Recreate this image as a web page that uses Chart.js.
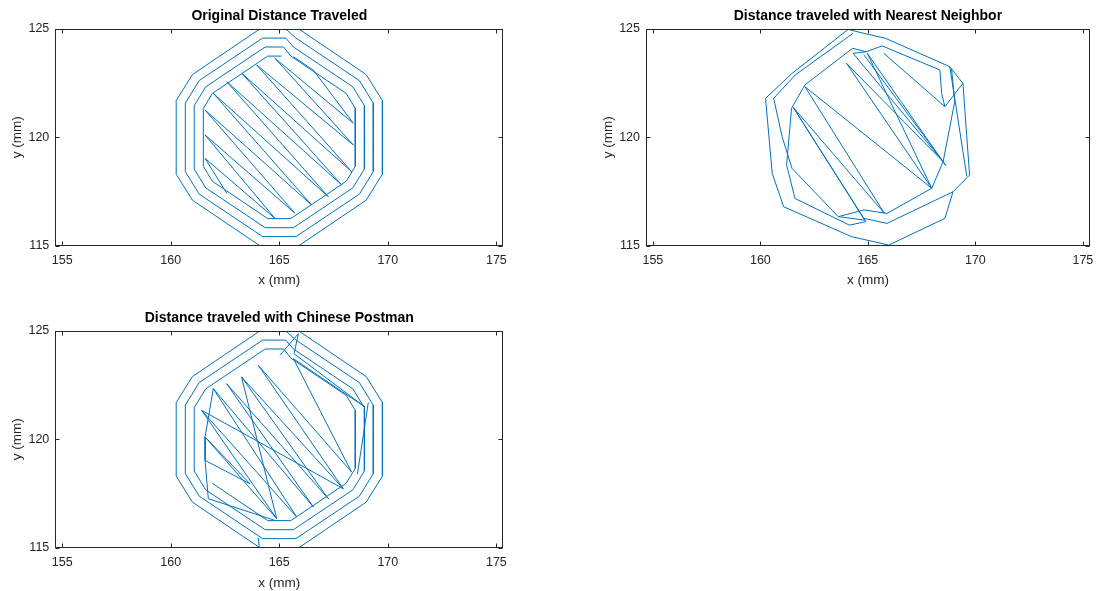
<!DOCTYPE html>
<html>
<head>
<meta charset="utf-8">
<script src="https://cdn.jsdelivr.net/npm/chart.js@4.4.0/dist/chart.umd.min.js"></script>
<style>
  html, body { margin: 0; padding: 0; background: #fff; overflow: hidden; }
  canvas { position: absolute; }
</style>
</head>
<body>
<canvas id="orig" width="520" height="300" style="left:0;top:0;width:520px;height:300px"></canvas>
<canvas id="nn" width="510" height="300" style="left:591px;top:0;width:510px;height:300px"></canvas>
<canvas id="cp" width="520" height="289" style="left:0;top:302px;width:520px;height:289px"></canvas>
<script>
// axes
const xTicks = [155, 160, 165, 170, 175]
const yTicks = [115, 120, 125]
const xRange = [154.68, 175.32]
const yRange = [115, 125]
const titles = ['Original Distance Traveled', 'Distance traveled with Nearest Neighbor', 'Distance traveled with Chinese Postman']

// contour rings (x, y in mm), each ends with the step to the next ring
const ring1 = [[165.9,125.0],[169.0,122.9],[169.75,121.7],[169.75,118.3],[169.0,117.1],[165.9,115.0],[164.1,115.0],[161.0,117.1],[160.25,118.3],[160.25,121.7],[161.0,122.9],[164.1,125.0],[165.3,125.0]]
const ring2 = [[165.77,124.58],[168.69,122.62],[169.33,121.58],[169.33,118.42],[168.69,117.38],[165.77,115.42],[164.23,115.42],[161.31,117.38],[160.67,118.42],[160.67,121.58],[161.31,122.62],[164.23,124.58],[165.3,124.58]]
const ring3 = [[165.65,124.17],[168.39,122.33],[168.92,121.46],[168.92,118.54],[168.39,117.67],[165.65,115.83],[164.35,115.83],[161.61,117.67],[161.08,118.54],[161.08,121.46],[161.61,122.33],[164.35,124.17],[165.2,124.17]]
const ring4 = [[165.53,123.75],[168.08,122.03],[168.5,121.34],[168.5,118.66],[168.08,117.97],[165.53,116.25],[164.47,116.25],[161.92,117.97],[161.5,118.66],[161.5,121.34],[161.92,122.03],[164.47,123.75],[165.1,123.75]]

// original zigzag infill
const origHatch = [[165.65,123.72],[166.57,123.1],[168.41,120.65],[164.80,123.65],[168.41,119.65],[163.96,123.34],[168.34,118.41],[163.27,122.96],[167.88,117.80],[162.58,122.57],[167.26,117.26],[161.96,122.03],[166.49,116.88],[161.58,121.26],[165.72,116.50],[161.58,120.11],[164.80,116.26],[161.58,119.03],[162.58,117.42]]

// nearest neighbour path pieces
const nnOuter = [[164.82,124.80],[164.08,124.98],[161.47,122.95],[160.24,121.80],[160.55,118.34],[161.08,116.80],[164.23,115.42],[165.97,115.03],[168.58,116.26],[168.96,117.49],[169.73,118.26],[169.42,122.49],[168.81,123.26],[165.82,124.57],[164.82,124.80]]
const nnSecond = [[164.31,124.80],[161.62,122.88],[160.62,121.80],[161.01,120.03],[161.47,118.57],[163.62,116.34],[164.85,116.18]]
const nnDiagonals = [[164.85,116.18],[161.53,121.38],[165.77,116.49],[162.07,122.34],[167.97,117.65],[164.00,123.42],[168.50,118.88],[164.31,123.88],[164.92,123.95],[165.66,124.22],[168.35,123.11],[168.43,122.03],[168.58,121.42],[165.74,123.88]]
const nnRight = [[168.89,123.18],[169.04,121.65],[168.50,118.88],[167.97,117.65],[165.89,116.49],[164.82,116.65],[163.62,116.34]]
const nnLower = [[164.82,116.26],[165.89,116.03],[168.96,117.49]]
const nnCross = [[169.42,122.49],[168.58,121.42]]
const nnInner = [[164.92,123.95],[164.29,124.11],[162.07,122.42],[161.45,121.34],[161.22,118.72],[161.61,117.18],[164.14,115.95],[164.91,116.11]]
const nnLong = [[164.82,123.80],[168.50,118.88],[168.62,118.70],[164.97,123.88],[167.97,117.65]]
const nnDouble = [[161.53,121.38],[164.91,116.11]]
const nnEdge = [[168.81,123.26],[169.60,118.20]]

// chinese postman path pieces
const cpRing4 = [[165.53,123.75],[168.08,122.03],[168.5,121.34],[168.5,118.66],[168.08,117.97],[165.53,116.25],[164.47,116.25],[161.92,117.97]]
const cpHatch = [[165.03,123.88],[165.88,124.88],[165.68,123.95],[168.95,121.49],[165.65,123.72],[168.33,118.49],[164.03,123.42],[167.95,117.72],[163.26,122.88],[167.26,117.26],[162.57,122.57],[166.57,116.88],[161.96,122.34],[165.80,116.42],[161.42,121.34],[164.88,116.34],[161.58,120.11],[163.65,117.95],[161.58,119.03],[161.73,117.26],[164.80,116.26]]
const cpEdge = [[161.96,122.34],[161.58,120.11],[161.58,119.03]]
const cpLong = [[161.42,121.34],[167.95,117.72]]
const cpSteep = [[163.26,122.88],[164.88,116.34]]
const cpCross = [[169.10,121.70],[168.60,118.40]]
const cpJog = [[164.03,115.45],[164.08,115.0]]

const lineColor = '#0072BD'
const textColor = '#262626'
const fontFamily = "'Liberation Sans', Arial, Helvetica, sans-serif"

const matlabAxes = {
  id: 'matlabAxes',
  afterDraw(chart) {
    const { ctx, chartArea: a, scales } = chart
    const l = Math.round(a.left) + 0.5
    const r = Math.round(a.right) - 0.5
    const t = Math.round(a.top) + 0.5
    const b = Math.round(a.bottom) - 0.5
    ctx.save()
    ctx.strokeStyle = textColor
    ctx.lineWidth = 1
    ctx.strokeRect(l, t, r - l, b - t)
    ctx.beginPath()
    for (const v of xTicks) {
      const px = Math.round(scales.x.getPixelForValue(v)) + 0.5
      ctx.moveTo(px, b); ctx.lineTo(px, b - 4)
      ctx.moveTo(px, t); ctx.lineTo(px, t + 4)
    }
    for (const v of yTicks) {
      const py = Math.round(scales.y.getPixelForValue(v)) + 0.5
      ctx.moveTo(l, py); ctx.lineTo(l + 4, py)
      ctx.moveTo(r, py); ctx.lineTo(r - 4, py)
    }
    ctx.stroke()
    ctx.restore()
  },
}

function lineSet(points) {
  return {
    data: points.map(([x, y]) => ({ x, y })),
    showLine: true,
    borderColor: lineColor,
    borderWidth: 1,
    pointRadius: 0,
    pointHoverRadius: 0,
    fill: false,
    tension: 0,
  }
}

function buildChart(id, title, paths, opts) {
  return new Chart(document.getElementById(id), {
    type: 'scatter',
    data: { datasets: paths.map(lineSet) },
    plugins: [matlabAxes],
    options: {
      responsive: false,
      animation: false,
      devicePixelRatio: 1,
      layout: { padding: { left: 0, top: 0, right: opts.padRight, bottom: 0 } },
      plugins: {
        legend: { display: false },
        tooltip: { enabled: false },
        title: {
          display: true,
          text: title,
          fullSize: false,
          color: '#000',
          font: { family: fontFamily, size: 14, weight: 'bold' },
          padding: { top: 8.1, bottom: 4.1 },
        },
      },
      scales: {
        x: {
          type: 'linear',
          min: xRange[0],
          max: xRange[1],
          grid: { display: false, drawTicks: false },
          border: { display: false },
          afterBuildTicks: (s) => { s.ticks = xTicks.map((v) => ({ value: v })) },
          afterFit: (s) => { s.height = opts.xHeight },
          ticks: { color: textColor, font: { family: fontFamily, size: 12.5 }, padding: 7.5 },
          title: { display: true, text: 'x (mm)', color: textColor, font: { family: fontFamily, size: 13.5 }, padding: { top: 0, bottom: opts.xTitlePad } },
        },
        y: {
          type: 'linear',
          min: yRange[0],
          max: yRange[1],
          grid: { display: false, drawTicks: false },
          border: { display: false },
          afterBuildTicks: (s) => { s.ticks = yTicks.map((v) => ({ value: v })) },
          afterFit: (s) => { s.width = opts.yWidth },
          ticks: { color: textColor, font: { family: fontFamily, size: 12.5 }, padding: 6 },
          title: { display: true, text: 'y (mm)', color: textColor, font: { family: fontFamily, size: 13.5 }, padding: { top: 9.4, bottom: 0 } },
        },
      },
    },
  })
}

buildChart('orig', titles[0], [[...ring1, ...ring2, ...ring3, ...ring4], origHatch],
  { padRight: 16.7, xHeight: 54.3, xTitlePad: 12, yWidth: 55.3 })
buildChart('nn', titles[1], [nnOuter, nnSecond, nnDiagonals, nnRight, nnLower, nnCross, nnInner, nnLong, nnDouble, nnEdge],
  { padRight: 7, xHeight: 54.3, xTitlePad: 12, yWidth: 55 })
buildChart('cp', titles[2], [[...ring1, ...ring2, ...ring3, ...cpRing4], cpHatch, cpEdge, cpLong, cpSteep, cpCross, cpJog],
  { padRight: 16.7, xHeight: 43.3, xTitlePad: 0, yWidth: 55.3 })
</script>
</body>
</html>
